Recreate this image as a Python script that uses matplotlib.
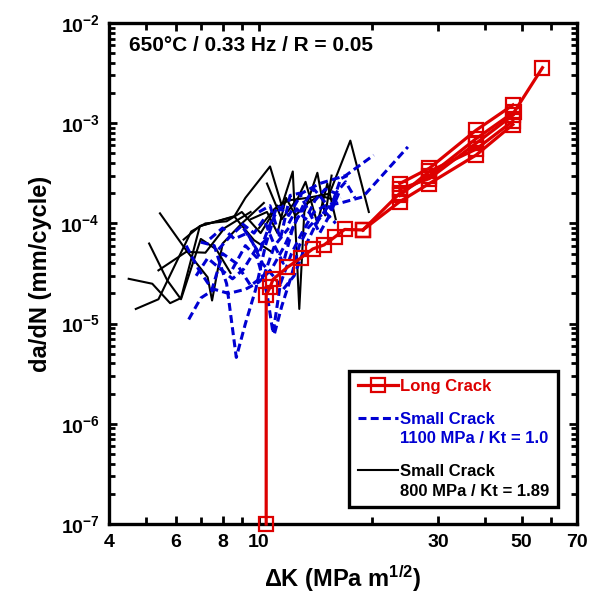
import numpy as np
import matplotlib
matplotlib.use("Agg")
import matplotlib.pyplot as plt
from matplotlib.lines import Line2D
from matplotlib.legend_handler import HandlerLine2D
from matplotlib.ticker import FixedLocator, NullFormatter, LogLocator

plt.rcParams['font.family'] = ['Liberation Sans', 'DejaVu Sans']
plt.rcParams['font.weight'] = 'bold'
plt.rcParams['axes.labelweight'] = 'bold'
plt.rcParams['mathtext.fontset'] = 'custom'
for k in ['rm', 'it', 'bf', 'sf']:
    plt.rcParams['mathtext.' + k] = 'Liberation Sans:bold'

# ---- long crack (red, open squares)
lc_dk = [
    [10.45, 10.45, 10.7, 10.9, 11.9, 12.9, 13.9, 14.9, 15.9, 16.9, 18.9],
    [18.9, 23.7, 28.4, 37.8, 47.8, 56.8],
    [18.9, 23.7, 28.4, 37.8, 47.4],
    [23.7, 28.4, 37.8, 47.4],
    [23.7, 28.4, 37.8, 47.4],
    [23.7, 28.4, 37.8, 47.4],
]
lc_da = [
    [1e-7, 1.93e-5, 2.3e-5, 2.77e-5, 3.65e-5, 4.5e-5, 5.56e-5, 6.1e-5, 7.3e-5, 8.7e-5, 8.6e-5],
    [8.6e-5, 2.0e-4, 3.0e-4, 7.0e-4, 1.3e-3, 3.58e-3],
    [8.6e-5, 1.65e-4, 2.5e-4, 4.8e-4, 9.7e-4],
    [2.5e-4, 3.55e-4, 8.5e-4, 1.52e-3],
    [1.9e-4, 3.3e-4, 5.5e-4, 1.05e-3],
    [2.2e-4, 2.8e-4, 6.3e-4, 1.2e-3],
]

# ---- small crack 1100 MPa / Kt = 1.0 (blue dashed)
sc1_dk = [
    [6.4, 6.9, 7.5, 8.0, 8.7, 9.5, 10.3, 11.0, 12.0],
    [6.5, 7.0, 7.6, 8.3, 9.2, 10.0, 10.8, 11.7, 12.6, 13.5],
    [7.0, 7.6, 8.2, 8.7, 9.2, 9.8, 10.4, 11.0, 11.8],
    [7.4, 8.0, 8.6, 9.3, 10.0, 10.6, 11.2, 12.0, 13.0, 14.5, 17.0, 20.2],
    [8.5, 9.2, 9.9, 10.5, 10.9, 11.4, 12.2, 13.0, 14.0, 15.0, 16.5, 18.9, 24.9],
    [9.0, 9.7, 10.3, 11.0, 11.6, 12.3, 13.2, 14.0, 15.5, 16.5, 17.2],
    [10.0, 10.7, 11.4, 12.1, 12.8, 13.6, 14.5, 15.4, 16.3],
    [11.0, 11.5, 12.2, 12.8, 13.5, 14.2, 15.0, 16.0],
    [6.8, 7.3, 7.9, 8.5, 9.1, 9.8, 10.5],
    [7.8, 8.4, 9.0, 9.6, 10.2, 10.9, 11.6, 12.4, 13.3, 14.2, 15.3, 16.5],
    [12.0, 12.6, 13.3, 14.1, 15.0, 16.0, 17.0, 18.0],
]
sc1_da = [
    [6.0e-5, 3.5e-5, 2.2e-5, 5.0e-5, 4.0e-5, 2.4e-5, 3.0e-5, 6.0e-5, 9.0e-5],
    [1.1e-5, 1.8e-5, 2.2e-5, 2.0e-5, 2.2e-5, 2.6e-5, 3.5e-5, 6.0e-5, 1.1e-4, 1.6e-4],
    [6.5e-5, 6.0e-5, 2.5e-5, 4.6e-6, 1.0e-5, 2.2e-5, 6.0e-5, 1.2e-4, 1.6e-4],
    [7.0e-5, 9.0e-5, 7.0e-5, 8.0e-5, 5.0e-5, 9.0e-5, 1.5e-4, 1.2e-4, 2.0e-4, 2.5e-4, 3.0e-4, 4.8e-4],
    [3.5e-5, 6.0e-5, 4.5e-5, 2.0e-5, 8.0e-6, 2.5e-5, 5.0e-5, 8.0e-5, 1.3e-4, 1.5e-4, 1.6e-4, 1.84e-4, 5.8e-4],
    [1.0e-4, 8.0e-5, 1.1e-4, 6.0e-5, 4.0e-5, 9.0e-5, 1.6e-4, 2.2e-4, 1.4e-4, 2.8e-4, 3.0e-4],
    [1.3e-4, 1.5e-4, 7.0e-5, 1.9e-4, 2.0e-4, 1.3e-4, 8.0e-5, 1.2e-4, 2.0e-4],
    [8.0e-6, 1.5e-5, 3.0e-5, 6.0e-5, 9.0e-5, 1.1e-4, 1.3e-4, 1.0e-4],
    [3.0e-5, 4.5e-5, 3.5e-5, 2.8e-5, 3.5e-5, 5.5e-5, 7.0e-5],
    [5.5e-5, 7.5e-5, 9.5e-5, 6.5e-5, 4.0e-5, 3.0e-5, 2.2e-5, 3.0e-5, 6.0e-5, 1.0e-4, 1.5e-4, 1.8e-4],
    [1.0e-4, 1.4e-4, 1.1e-4, 1.7e-4, 2.2e-4, 2.0e-4, 2.6e-4, 1.8e-4],
]

# ---- small crack 800 MPa / Kt = 1.89 (black solid)
sc2_dk = [
    [4.5, 5.2, 5.8, 6.2, 6.96, 8.6, 9.7, 10.8],
    [4.7, 5.4, 6.6, 7.2, 8.2, 9.0, 10.1, 11.2],
    [5.1, 5.7, 6.2, 7.0, 7.7, 8.4],
    [5.45, 6.4, 7.3, 7.5, 8.0, 9.0, 10.3],
    [5.4, 6.4, 7.2, 8.1, 9.5],
    [6.3, 6.96, 8.6, 9.2, 10.7, 11.5, 12.3, 12.8, 13.2, 14.3, 15.0, 15.6],
    [10.0, 11.0, 12.0, 13.5, 15.4, 17.5, 19.6],
    [9.5, 10.5, 11.2, 11.8, 12.5, 13.5, 14.5, 16.0],
    [10.5, 11.5, 12.7, 13.3, 14.3, 15.2, 16.0],
]
sc2_da = [
    [2.8e-5, 2.5e-5, 1.6e-5, 1.8e-5, 9.4e-5, 1.17e-4, 6.8e-5, 5.2e-5],
    [1.4e-5, 1.75e-5, 8.3e-5, 1.0e-4, 1.05e-4, 1.3e-4, 8.0e-5, 1.5e-4],
    [6.3e-5, 2.7e-5, 1.75e-5, 7.0e-5, 5.5e-5, 3.2e-5],
    [1.26e-4, 5.4e-5, 2.9e-5, 1.7e-5, 6.3e-5, 1.0e-4, 1.6e-4],
    [3.4e-5, 5.2e-5, 5.1e-5, 9.0e-5, 1.3e-4],
    [6.9e-5, 9.4e-5, 1.18e-4, 1.8e-4, 3.7e-4, 1.5e-4, 3.3e-4, 1.4e-5, 1.3e-4, 3.2e-4, 1.2e-4, 3.0e-4],
    [9.0e-5, 1.4e-4, 1.7e-4, 1.8e-4, 1.98e-4, 6.7e-4, 1.3e-4],
    [1.1e-4, 1.3e-4, 8.0e-5, 1.8e-4, 1.2e-4, 1.6e-4, 1.9e-4, 1.7e-4],
    [2.5e-4, 1.1e-4, 1.8e-4, 2.6e-4, 1.0e-4, 2.5e-4, 1.1e-4],
]

xticks = [4, 6, 8, 10, 30, 50, 70]
xminor = [5, 7, 9, 20, 40, 60]

red = '#dd0000'
blue = '#0000d2'
blue_ls = (0, (2.6, 1.4))

fig = plt.figure(figsize=(5.95, 5.94), dpi=100)
ax = fig.add_axes([0.184, 0.1178, 0.785, 0.8435])

for x, y in zip(sc2_dk, sc2_da):
    ax.plot(x, y, color='black', lw=1.5)
for x, y in zip(sc1_dk, sc1_da):
    ax.plot(x, y, color=blue, lw=2.2, ls=blue_ls)
for x, y in zip(lc_dk, lc_da):
    ax.plot(x, y, color=red, lw=2.3, marker='s', ms=9.5, mfc='none',
            mec=red, mew=1.6, clip_on=False, zorder=5)

ax.set_xscale('log')
ax.set_yscale('log')
ax.set_xlim(4, 70)
ax.set_ylim(1e-7, 1e-2)

ax.xaxis.set_major_locator(FixedLocator(xticks))
ax.xaxis.set_minor_locator(FixedLocator(xminor))
ax.set_xticklabels([str(v) for v in xticks])
ax.xaxis.set_minor_formatter(NullFormatter())
ax.yaxis.set_major_locator(LogLocator(base=10, numticks=10))
ax.yaxis.set_minor_locator(LogLocator(base=10, subs=np.arange(2, 10), numticks=10))

ax.tick_params(which='both', direction='in', top=True, right=True,
               width=2, labelsize=14, pad=7)
ax.tick_params(which='major', length=6)
ax.tick_params(which='minor', length=4)
ax.tick_params(axis='x', which='minor', length=5)
for s in ax.spines.values():
    s.set_linewidth(2.4)

ax.set_xlabel(r'$\Delta$K (MPa m$^{1/2}$)', fontsize=17, fontweight='bold', labelpad=9)
ax.set_ylabel('da/dN (mm/cycle)', fontsize=17, fontweight='bold', labelpad=6)

ax.text(0.042, 0.956, '650°C / 0.33 Hz / R = 0.05', transform=ax.transAxes,
        fontsize=15, fontweight='bold', va='center', ha='left')


# legend handle lifted to sit beside the first line of a two-line label
class FirstLineHandler(HandlerLine2D):
    def __init__(self, lift=0, **kw):
        super().__init__(**kw)
        self.lift = lift

    def create_artists(self, legend, orig_handle, xdescent, ydescent,
                       width, height, fontsize, trans):
        return super().create_artists(legend, orig_handle, xdescent,
                                      ydescent - self.lift, width, height,
                                      fontsize, trans)


h_long = Line2D([], [], color=red, lw=2.3, marker='s', ms=9.5, mfc='none', mec=red, mew=1.6)
h_blue = Line2D([], [], color=blue, lw=2.2, ls=blue_ls)
h_black = Line2D([], [], color='black', lw=1.5)
labels = ['Long Crack', 'Small Crack\n1100 MPa / Kt = 1.0', 'Small Crack\n800 MPa / Kt = 1.89']
leg = ax.legend([h_long, h_blue, h_black], labels, loc='lower right',
                bbox_to_anchor=(0.96, 0.034), borderaxespad=0, fancybox=False,
                frameon=True, edgecolor='black', handlelength=2.4,
                handletextpad=0.15, labelspacing=1.05, borderpad=0.5,
                labelcolor=[red, blue, 'black'],
                prop={'weight': 'bold', 'size': 12},
                handler_map={h_blue: FirstLineHandler(lift=16),
                             h_black: FirstLineHandler(lift=16)})
for t in leg.get_texts():
    t.set_linespacing(1.4)
leg.get_frame().set_linewidth(2.4)
leg.get_frame().set_alpha(1)

fig.savefig('out.png', dpi=100)
